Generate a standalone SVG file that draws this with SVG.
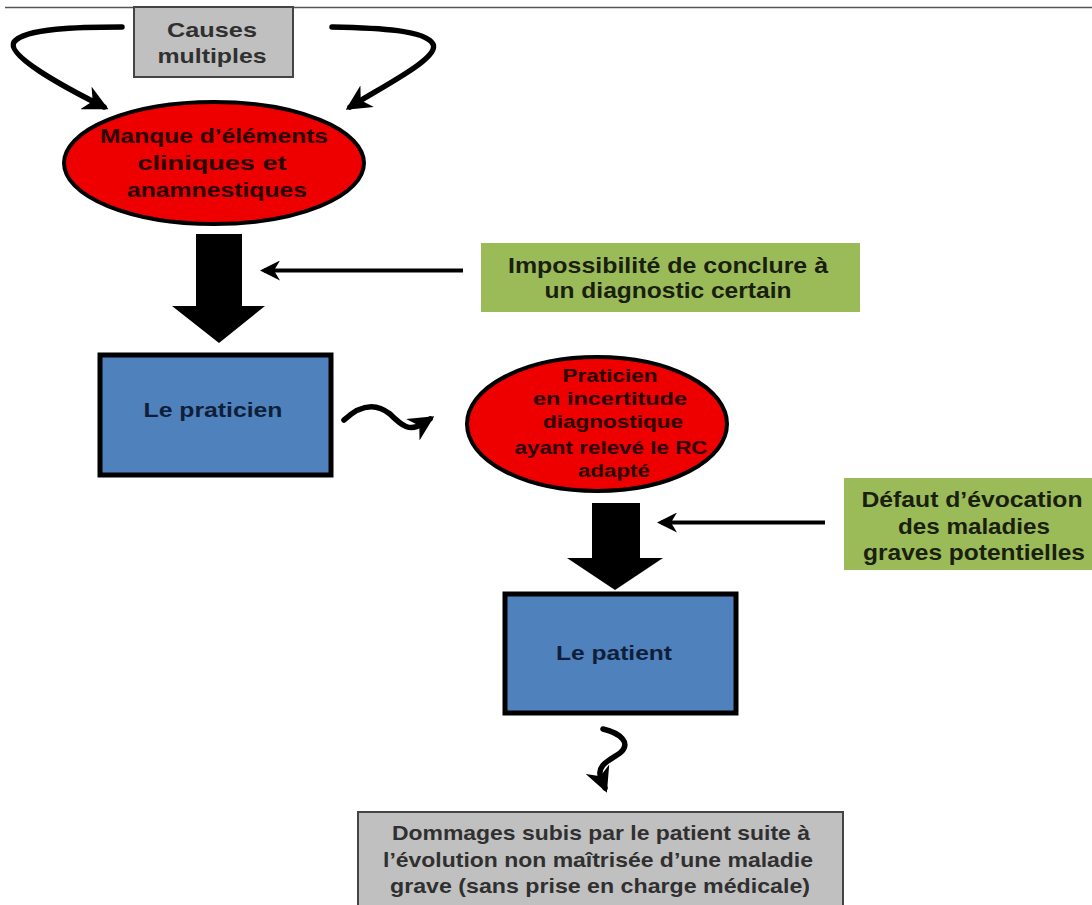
<svg xmlns="http://www.w3.org/2000/svg" width="1092" height="905" viewBox="0 0 1092 905">
<style>
text{font-family:"Liberation Sans",Arial,sans-serif;font-weight:bold;text-anchor:middle}
.red{fill:#ee0000;stroke:#000;stroke-width:4}
.redt{fill:#2a0000;font-size:20px}
.redt2{fill:#2a0000;font-size:18px}
.blue{fill:#4f81bd;stroke:#000;stroke-width:5}
.bluet{fill:#0f1f3a;font-size:21px}
.green{fill:#9bbb59}
.greent{fill:#1a2010;font-size:22px}
.gray{fill:#c0c0c0;stroke:#444;stroke-width:2}
.grayt{fill:#303030;font-size:21px}
.thick{fill:none;stroke:#000;stroke-width:5.5;stroke-linecap:round}
.thin{fill:none;stroke:#000;stroke-width:4}
.big{fill:#000}
</style>
<defs>
<marker id="ah" viewBox="0 0 10 10" refX="8" refY="5" markerWidth="4.6" markerHeight="4.6" orient="auto" markerUnits="strokeWidth">
<path d="M0,0 L10,5 L0,10 L3,5 z" fill="#000"/>
</marker>
<marker id="ah2" viewBox="0 0 10 10" refX="8" refY="5" markerWidth="5" markerHeight="5" orient="auto" markerUnits="strokeWidth">
<path d="M0,0 L10,5 L0,10 L3,5 z" fill="#000"/>
</marker>
</defs>
<rect width="1092" height="905" fill="#fff"/>
<line x1="5" y1="7.5" x2="1092" y2="7.5" stroke="#555" stroke-width="1.5"/>

<g id="connectors">
<path class="thick" d="M122 27 C 80 27, 25 28, 14 42 C 6 55, 60 85, 104 107" marker-end="url(#ah)"/>
<path class="thick" d="M332 27 C 380 28, 425 30, 433 44 C 440 58, 385 85, 350 107" marker-end="url(#ah)"/>
<path class="big" d="M196 234 H242 V306 H265 L219 343 L172 306 H196 Z"/>
<line class="thin" x1="463" y1="270.5" x2="264" y2="270.5" marker-end="url(#ah2)"/>
<path class="thick" d="M344 420 C 360 405, 375 402, 390 414 C 402 426, 410 432, 422 424 L 430 419" marker-end="url(#ah)"/>
<path class="big" d="M592 503 H640 V558 H663 L615 590 L567 558 H592 Z"/>
<line class="thin" x1="825" y1="522.5" x2="661" y2="522.5" marker-end="url(#ah2)"/>
<path class="thick" d="M603 729 C 620 733, 632 743, 620 753 C 608 761, 596 766, 601 778 L 605 788" marker-end="url(#ah)"/>
</g>

<g id="causes">
<rect class="gray" x="134" y="7" width="159" height="70"/>
<text class="grayt" x="212" y="37" textLength="90" lengthAdjust="spacingAndGlyphs">Causes</text>
<text class="grayt" x="212" y="63" textLength="109" lengthAdjust="spacingAndGlyphs">multiples</text>
</g>

<g id="manque">
<ellipse class="red" cx="214" cy="163" rx="150" ry="61"/>
<text class="redt" x="214" y="143" textLength="228" lengthAdjust="spacingAndGlyphs">Manque d’éléments</text>
<text class="redt" x="212" y="170" textLength="149" lengthAdjust="spacingAndGlyphs">cliniques et</text>
<text class="redt" x="217" y="197" textLength="180" lengthAdjust="spacingAndGlyphs">anamnestiques</text>
</g>

<g id="impossibilite">
<rect class="green" x="481" y="243" width="379" height="69"/>
<text class="greent" x="668" y="273" textLength="320" lengthAdjust="spacingAndGlyphs">Impossibilité de conclure à</text>
<text class="greent" x="668" y="298" textLength="247" lengthAdjust="spacingAndGlyphs">un diagnostic certain</text>
</g>

<g id="praticien">
<rect class="blue" x="100" y="355" width="231" height="120"/>
<text class="bluet" x="213" y="417" textLength="139" lengthAdjust="spacingAndGlyphs">Le praticien</text>
</g>

<g id="incertitude">
<ellipse class="red" cx="597" cy="424" rx="130" ry="67"/>
<text class="redt2" x="610" y="382" textLength="95" lengthAdjust="spacingAndGlyphs">Praticien</text>
<text class="redt2" x="610" y="405" textLength="154" lengthAdjust="spacingAndGlyphs">en incertitude</text>
<text class="redt2" x="613" y="428" textLength="140" lengthAdjust="spacingAndGlyphs">diagnostique</text>
<text class="redt2" x="611" y="454" textLength="193" lengthAdjust="spacingAndGlyphs">ayant relevé le RC</text>
<text class="redt2" x="614" y="477" textLength="72" lengthAdjust="spacingAndGlyphs">adapté</text>
</g>

<g id="defaut">
<rect class="green" x="844" y="478" width="248" height="92"/>
<text class="greent" x="972" y="507" textLength="221" lengthAdjust="spacingAndGlyphs">Défaut d’évocation</text>
<text class="greent" x="974" y="534" textLength="152" lengthAdjust="spacingAndGlyphs">des maladies</text>
<text class="greent" x="974" y="560" textLength="222" lengthAdjust="spacingAndGlyphs">graves potentielles</text>
</g>

<g id="patient">
<rect class="blue" x="505" y="594" width="231" height="119"/>
<text class="bluet" x="614" y="660" textLength="116" lengthAdjust="spacingAndGlyphs">Le patient</text>
</g>

<g id="dommages">
<rect class="gray" x="358" y="812" width="485" height="100"/>
<text class="grayt" x="601" y="840" textLength="418" lengthAdjust="spacingAndGlyphs">Dommages subis par le patient suite à</text>
<text class="grayt" x="598" y="867" textLength="430" lengthAdjust="spacingAndGlyphs">l’évolution non maîtrisée  d’une maladie</text>
<text class="grayt" x="600" y="893" textLength="420" lengthAdjust="spacingAndGlyphs">grave (sans prise en charge médicale)</text>
</g>
</svg>
